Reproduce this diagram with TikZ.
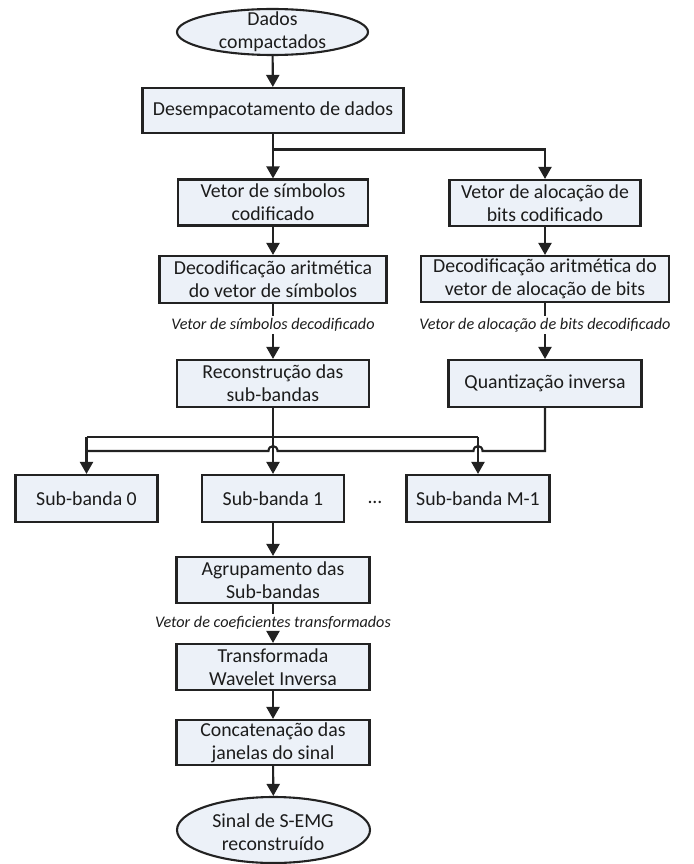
\documentclass[tikz,border=0pt]{standalone}
\usepackage{fontspec}
\setmainfont{Carlito}
\usetikzlibrary{shapes.geometric,arrows.meta}
\definecolor{boxfill}{RGB}{236,241,248}
\definecolor{edgec}{RGB}{34,34,34}
\definecolor{txtc}{RGB}{28,28,28}
\begin{document}
\begin{tikzpicture}[x=1pt,y=-1pt,
  txtstyle/.style={align=center, text=txtc, inner sep=0pt, font=\fontsize{19.8}{23}\selectfont},
  proc/.style={txtstyle, draw=edgec, line width=2.1pt, fill=boxfill},
  term/.style={ellipse, draw=edgec, line width=2.1pt, fill=boxfill, inner sep=0pt},
  lab/.style={font=\fontsize{16.2}{18}\itshape\selectfont, text=txtc, inner sep=2pt},
  conn/.style={draw=edgec, line width=2.1pt},
  arr/.style={conn, -{Triangle[length=12pt,width=13pt]}},
]
\useasboundingbox (0,0) rectangle (693,864);

% top terminal
\node[term, minimum width=191pt, minimum height=46pt] (e1) at (272.5,32) {};
\node[txtstyle] (e1t) at (e1.center) {Dados\\compactados};

\node[proc, minimum width=261pt, minimum height=45pt] (b1) at (273,110.5) {Desempacotamento de dados};

\node[proc, minimum width=190pt, minimum height=46pt] (b2L) at (273,202.5) {Vetor de símbolos\\codificado};
\node[proc, minimum width=191pt, minimum height=46pt] (b2R) at (545,203) {Vetor de alocação de\\bits codificado};

\node[proc, minimum width=227pt, minimum height=47pt] (b3L) at (273,279.5) {Decodificação aritmética\\do vetor de símbolos};
\node[proc, minimum width=248pt, minimum height=46pt] (b3R) at (545,279) {Decodificação aritmética do\\vetor de alocação de bits};

\node[lab] (l1) at (273,325) {Vetor de símbolos decodificado};
\node[lab] (l2) at (545,325) {Vetor de alocação de bits decodificado};

\node[proc, minimum width=192pt, minimum height=47pt] (b4L) at (273,383.5) {Reconstrução das\\sub-bandas};
\node[proc, minimum width=193pt, minimum height=47pt] (b4R) at (545,383.5) {Quantização inversa};

\node[proc, minimum width=142pt, minimum height=47pt] (s0) at (86.5,498.5) {Sub-banda 0};
\node[proc, minimum width=142pt, minimum height=47pt] (s1) at (273,498.5) {Sub-banda 1};
\node[txtstyle] (dots) at (375,502) {...};
\node[proc, minimum width=143pt, minimum height=47pt] (sM) at (478,498.5) {Sub-banda M-1};

\node[proc, minimum width=193pt, minimum height=46pt] (b5) at (273,580) {Agrupamento das\\Sub-bandas};
\node[lab] (l3) at (273,623) {Vetor de coeficientes transformados};
\node[proc, minimum width=193pt, minimum height=46pt] (b6) at (273,667) {Transformada\\Wavelet Inversa};
\node[proc, minimum width=193pt, minimum height=45pt] (b7) at (273,742.5) {Concatenação das\\janelas do sinal};

\node[term, minimum width=193pt, minimum height=66pt] (e2) at (273.5,830) {};
\node[txtstyle] (e2t) at (273,832) {Sinal de S-EMG\\reconstruído};

% connectors
\coordinate (br) at (273,149.5);
\draw[arr] (e1) -- (b1);
\draw[arr] (b1.south) -- (b2L.north);
\draw[arr] (br) -| (b2R.north);
\draw[arr] (b2L) -- (b3L);
\draw[arr] (b2R) -- (b3R);
\draw[conn] (b3L.south) -- (l1.north);
\draw[arr] (l1.south) -- (b4L.north);
\draw[conn] (b3R.south) -- (l2.north);
\draw[arr] (l2.south) -- (b4R.north);

% upper bus (from Reconstrucao)
\coordinate (uc) at (273,437);
\coordinate (ul) at (86.5,437);
\coordinate (ur) at (478,437);
\draw[conn] (b4L.south) -- (uc);
\draw[conn] (ul) -- (ur);
\draw[arr] (uc) -- (s1.north);
\draw[arr] (ul) -- (s0.north);
\draw[arr] (ur) -- (sM.north);

% lower bus (from Quantizacao) with line jumps
\coordinate (lr) at (545,451);
\coordinate (ll) at (86.5,451);
\draw[conn] (b4R.south) -- (lr) -- (482.5,451) .. controls (482.5,444.5) and (473.5,444.5) .. (473.5,451)
  -- (277.5,451) .. controls (277.5,444.5) and (268.5,444.5) .. (268.5,451) -- (ll);

\draw[arr] (s1) -- (b5);
\draw[conn] (b5.south) -- (l3.north);
\draw[arr] (l3.south) -- (b6.north);
\draw[arr] (b6) -- (b7);
\draw[arr] (b7) -- (e2);
\end{tikzpicture}
\end{document}
